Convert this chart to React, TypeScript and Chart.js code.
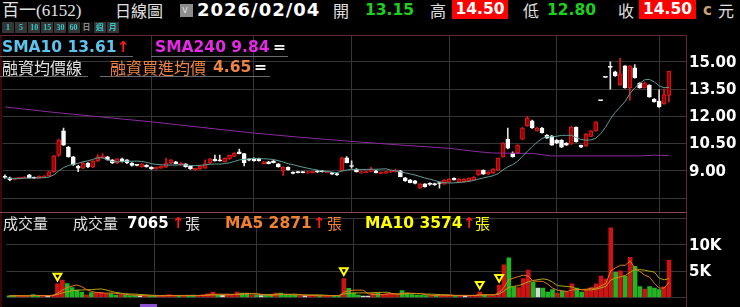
import React, { useEffect, useRef } from 'react';
import { Chart, registerables } from 'chart.js';
Chart.register(...registerables);

// ---- data ----
const opens = [8.70,8.62,8.52,8.58,8.60,8.78,8.64,8.60,8.66,8.72,8.95,9.85,11.20,10.30,9.77,9.26,9.15,9.43,9.21,9.54,9.72,9.77,9.60,9.43,9.66,9.60,9.43,9.30,9.22,9.32,9.20,9.10,9.15,9.20,9.43,9.50,9.32,9.38,9.26,9.05,9.10,9.15,9.43,9.65,9.60,9.50,9.65,9.80,10.04,9.95,9.65,9.70,9.68,9.40,9.50,9.55,9.38,9.00,9.20,8.93,8.95,8.94,8.88,8.90,9.00,9.00,8.90,8.90,8.85,9.00,9.72,9.28,9.10,8.88,8.90,8.97,9.00,8.85,8.87,8.92,8.95,9.00,8.62,8.50,8.45,8.05,8.28,8.30,8.30,8.30,8.27,8.38,8.60,8.38,8.40,8.45,8.50,8.77,9.04,8.82,8.88,9.04,9.77,10.75,9.98,9.98,10.75,11.47,11.75,11.20,11.36,10.97,10.92,10.70,10.70,10.53,10.47,11.41,10.40,10.37,10.90,11.20,12.87,14.15,14.75,14.45,13.74,14.78,13.57,14.67,13.84,13.57,13.73,12.95,12.85,12.68,13.15];
const highs = [8.78,8.65,8.60,8.62,8.68,8.80,8.66,8.72,8.74,8.96,9.85,10.75,11.36,10.35,9.80,9.30,9.45,9.46,9.56,9.90,9.95,9.80,9.62,9.68,9.70,9.62,9.45,9.32,9.40,9.34,9.22,9.22,9.28,9.70,9.62,9.52,9.45,9.40,9.28,9.15,9.28,9.60,9.68,9.87,9.87,9.72,9.87,10.00,10.20,9.97,9.68,9.72,9.70,9.52,9.52,9.57,9.40,9.22,9.22,8.95,8.97,8.96,8.97,8.99,9.02,9.02,8.98,8.92,8.87,9.75,9.78,9.55,9.12,9.00,8.98,9.20,9.02,8.94,8.98,9.02,9.10,9.02,8.64,8.52,8.47,8.30,8.30,8.35,8.32,8.35,8.51,8.57,8.62,8.57,8.57,8.62,8.68,9.06,9.06,8.95,9.12,9.72,10.55,11.36,10.05,10.45,11.40,12.00,11.80,11.40,11.40,11.00,10.95,10.72,10.72,10.56,11.45,11.43,10.42,11.05,11.22,11.72,12.87,14.15,15.00,14.50,15.20,14.80,14.80,14.85,13.86,13.90,13.75,12.98,13.46,13.50,14.50];
const lows = [8.58,8.45,8.50,8.55,8.58,8.60,8.58,8.58,8.64,8.70,8.92,9.80,10.40,9.75,9.30,8.95,9.12,9.18,9.18,9.50,9.70,9.58,9.40,9.40,9.48,9.40,9.26,9.27,9.20,9.20,9.08,9.08,9.13,9.18,9.40,9.38,9.30,9.20,9.08,9.02,9.08,9.13,9.40,9.53,9.53,9.48,9.63,9.78,9.93,9.27,9.55,9.53,9.53,9.38,9.38,9.43,9.20,8.75,9.03,8.83,8.88,8.88,8.86,8.88,8.91,8.93,8.88,8.80,8.75,8.98,9.43,9.15,8.93,8.86,8.88,8.95,8.88,8.83,8.85,8.90,8.93,8.66,8.42,8.33,8.28,8.03,8.10,8.20,8.20,8.05,8.25,8.36,8.48,8.36,8.38,8.43,8.48,8.75,8.80,8.80,8.86,9.02,9.75,10.20,9.75,9.95,10.72,11.45,11.33,11.18,11.08,10.78,10.40,10.50,10.28,10.40,10.45,10.58,10.28,10.35,10.88,11.18,12.87,14.15,13.50,14.20,13.70,13.55,12.90,14.10,13.55,13.55,13.05,12.78,12.50,12.66,12.80];
const closes = [8.64,8.50,8.58,8.60,8.66,8.62,8.60,8.70,8.70,8.94,9.83,10.70,10.42,9.77,9.32,9.15,9.43,9.21,9.54,9.77,9.82,9.60,9.43,9.66,9.50,9.43,9.30,9.30,9.38,9.22,9.10,9.20,9.26,9.43,9.60,9.40,9.43,9.22,9.10,9.13,9.26,9.38,9.66,9.55,9.55,9.70,9.85,9.98,9.95,9.43,9.58,9.55,9.55,9.50,9.40,9.45,9.22,9.20,9.05,8.85,8.90,8.90,8.95,8.97,8.93,8.95,8.96,8.82,8.77,9.72,9.45,9.24,8.95,8.95,8.95,9.10,8.90,8.92,8.96,9.00,9.02,8.68,8.44,8.35,8.30,8.28,8.12,8.25,8.22,8.30,8.49,8.55,8.50,8.55,8.55,8.60,8.66,9.04,8.82,8.93,9.10,9.70,10.53,10.25,9.77,10.42,11.36,11.90,11.36,11.36,11.10,10.80,10.42,10.53,10.30,10.42,11.41,10.60,10.30,11.03,11.20,11.70,12.87,14.15,14.70,14.23,14.34,13.57,14.78,14.12,13.57,13.84,13.07,12.80,12.52,13.20,14.50];
const volumes = [300,350,350,300,300,570,300,400,250,450,2580,3330,2640,1890,1430,1030,520,920,920,980,750,750,460,570,400,350,350,250,350,300,350,300,350,570,400,350,300,400,450,350,500,700,1030,500,400,450,600,1030,860,860,460,400,350,400,350,860,860,570,460,460,350,300,350,400,350,300,350,400,350,3610,1720,860,460,290,290,860,860,460,750,750,570,1320,860,570,460,400,350,300,350,300,450,500,350,400,350,400,450,1030,460,340,340,2350,6200,7510,2010,1890,3610,5220,2920,1780,1780,1030,1490,860,1200,1030,2580,1780,1030,1490,1890,2580,4070,3500,13250,4760,5050,4070,7630,5910,2060,1610,2060,1780,1490,2010,7065];
const sma240Idx = [0,10,20,30,40,51,60,71,80,91,97,100,108,112,130,133,136];
const sma240Val = [12.52,12.22,11.96,11.70,11.40,11.08,10.86,10.62,10.44,10.24,10.05,9.98,9.96,9.82,9.82,9.86,9.84];
const monthStartIdx = [30, 51, 71, 91, 113, 134];
const priceTicks = [7.5, 9, 10.5, 12, 13.5, 15];
const volTicks = [0, 5000, 10000, 15000];
const signalDays = [10, 69, 97, 101];
const buttonLabels = ['1', '5', '10', '15', '30', '60', '日', '週', '月'];

const X_MIN = -0.5;
const X_MAX = 139.5;
const GRID = '#363636';
const RED_FILL = '#9c0000';
const RED_EDGE = '#e41a1a';

const idxs = closes.map((_, i) => i);
const sma = (arr: number[], n: number) =>
  arr.map((_, i) => {
    const s = arr.slice(Math.max(0, i - n + 1), i + 1);
    return s.reduce((a, b) => a + b, 0) / s.length;
  });
const sma10 = sma(closes, 10);
const volMa5 = sma(volumes, 5);
const volMa10 = sma(volumes, 10);

const candleUp = (i: number) => closes[i] > opens[i];
const volColor = (i: number) => {
  const prev = i === 0 ? opens[0] : closes[i - 1];
  if (closes[i] > prev) return '#cc1414';
  if (closes[i] < prev) return '#22b422';
  return '#d8d8d8';
};

const noPad = (s: any) => {
  s.paddingTop = 0;
  s.paddingBottom = 0;
  s.paddingLeft = 0;
  s.paddingRight = 0;
};

const xScale = () => ({
  type: 'linear',
  min: X_MIN,
  max: X_MAX,
  offset: false,
  ticks: { display: false },
  grid: { color: GRID, drawTicks: false, offset: false },
  border: { display: false },
  afterBuildTicks: (s: any) => {
    s.ticks = monthStartIdx.map((v) => ({ value: v }));
  },
  afterFit: (s: any) => {
    s.height = 0;
    noPad(s);
  },
});

function PriceChart() {
  const ref = useRef<HTMLCanvasElement>(null);
  useEffect(() => {
    const chart = new Chart(ref.current!, {
      type: 'bar',
      data: {
        datasets: [
          {
            type: 'line',
            data: idxs.map((i) => ({ x: i, y: sma10[i] })),
            borderColor: '#5f9e98',
            borderWidth: 1,
            pointRadius: 0,
            order: 0,
          } as any,
          {
            type: 'line',
            data: sma240Idx.map((x, k) => ({ x, y: sma240Val[k] })),
            borderColor: '#8a2a9c',
            borderWidth: 1,
            pointRadius: 0,
            order: 1,
          } as any,
          {
            type: 'bar',
            data: idxs.map((i) => ({ x: i, y: [opens[i], closes[i]] })),
            backgroundColor: (c: any) => (candleUp(c.dataIndex) ? RED_FILL : '#ffffff'),
            borderColor: (c: any) => (candleUp(c.dataIndex) ? RED_EDGE : '#ffffff'),
            borderWidth: 1,
            borderSkipped: false,
            barThickness: 4,
            minBarLength: 1,
            grouped: false,
            order: 2,
          } as any,
          {
            type: 'bar',
            data: idxs.map((i) => ({ x: i, y: [lows[i], highs[i]] })),
            backgroundColor: (c: any) => (candleUp(c.dataIndex) ? RED_EDGE : '#e0e0e0'),
            barThickness: 1,
            grouped: false,
            order: 3,
          } as any,
        ],
      },
      options: {
        animation: false,
        responsive: false,
        events: [],
        layout: { padding: { left: 2.5, right: 0, top: 2, bottom: 2 } },
        plugins: { legend: { display: false }, tooltip: { enabled: false } },
        scales: {
          x: xScale(),
          y: {
            position: 'right',
            min: 6.73,
            max: 16.43,
            afterBuildTicks: (s: any) => {
              s.ticks = priceTicks.map((v) => ({ value: v }));
            },
            afterFit: (s: any) => {
              s.width = 54;
              noPad(s);
            },
            ticks: {
              color: '#ffffff',
              padding: 3,
              labelOffset: 1,
              font: { family: 'DejaVu Sans', weight: 'bold', size: 15 },
              callback: (v: any) => (v < 8 ? '' : Number(v).toFixed(2)),
            },
            grid: { color: GRID, drawTicks: false },
            border: { display: false },
          },
        },
      } as any,
    });
    return () => chart.destroy();
  }, []);
  return (
    <canvas
      ref={ref}
      width={740}
      height={180}
      style={{ position: 'absolute', left: 0, top: 34, width: 740, height: 180 }}
    />
  );
}

function VolumeChart() {
  const ref = useRef<HTMLCanvasElement>(null);
  useEffect(() => {
    const chart = new Chart(ref.current!, {
      type: 'bar',
      data: {
        datasets: [
          {
            type: 'line',
            data: signalDays.map((i) => ({ x: i, y: volumes[i] + 1500 })),
            showLine: false,
            pointStyle: 'triangle',
            pointRotation: 180,
            pointRadius: 4.5,
            pointBorderWidth: 2,
            pointBorderColor: '#ffff00',
            pointBackgroundColor: '#000000',
            order: 0,
          } as any,
          {
            type: 'line',
            data: idxs.map((i) => ({ x: i, y: volMa5[i] })),
            borderColor: '#e07a22',
            borderWidth: 1,
            pointRadius: 0,
            order: 1,
          } as any,
          {
            type: 'line',
            data: idxs.map((i) => ({ x: i, y: volMa10[i] })),
            borderColor: '#b4a414',
            borderWidth: 1,
            pointRadius: 0,
            order: 1,
          } as any,
          {
            type: 'bar',
            data: idxs.map((i) => ({ x: i, y: volumes[i] })),
            backgroundColor: (c: any) => volColor(c.dataIndex),
            barThickness: 4,
            grouped: false,
            order: 2,
          } as any,
        ],
      },
      options: {
        animation: false,
        responsive: false,
        events: [],
        layout: { padding: { left: 2.5, right: 0, top: 2, bottom: 3 } },
        plugins: { legend: { display: false }, tooltip: { enabled: false } },
        scales: {
          x: xScale(),
          y: {
            position: 'right',
            min: 0,
            max: 15000,
            afterBuildTicks: (s: any) => {
              s.ticks = volTicks.map((v) => ({ value: v }));
            },
            afterFit: (s: any) => {
              s.width = 54;
              noPad(s);
            },
            ticks: {
              color: '#ffffff',
              padding: 3,
              labelOffset: 1,
              font: { family: 'DejaVu Sans', weight: 'bold', size: 15 },
              callback: (v: any) => (v === 5000 || v === 10000 ? v / 1000 + 'K' : ''),
            },
            grid: { color: GRID, drawTicks: false },
            border: { display: false },
          },
        },
      } as any,
    });
    return () => chart.destroy();
  }, []);
  return (
    <canvas
      ref={ref}
      width={740}
      height={92}
      style={{ position: 'absolute', left: 0, top: 212, width: 740, height: 92 }}
    />
  );
}

const CJK = '"Noto Sans CJK TC", sans-serif';
const SERIF_CJK = '"Liberation Serif", "Noto Sans CJK TC", serif';
const NUM = '"DejaVu Sans", sans-serif';

function T(props: {
  x: number; y: number; h: number; size: number; color: string;
  bold?: boolean; family?: string; children: any; ls?: number; bg?: string; w?: number; center?: boolean;
}) {
  return (
    <div
      style={{
        position: 'absolute',
        left: props.x,
        top: props.y,
        height: props.h,
        lineHeight: props.h + 'px',
        fontSize: props.size,
        color: props.color,
        fontWeight: props.bold ? 'bold' : 'normal',
        fontFamily: props.family || CJK,
        letterSpacing: props.ls || 0,
        background: props.bg,
        width: props.w,
        textAlign: props.center ? 'center' : 'left',
        whiteSpace: 'nowrap',
      }}
    >
      {props.children}
    </div>
  );
}

function Line(p: { x: number; y: number; w: number; h: number; c: string }) {
  return <div style={{ position: 'absolute', left: p.x, top: p.y, width: p.w, height: p.h, background: p.c }} />;
}

export default function App() {
  return (
    <div
      style={{
        position: 'fixed', left: 0, top: 0, width: 740, height: 307,
        background: '#000', overflow: 'hidden',
      }}
    >
      <PriceChart />
      <VolumeChart />

      {/* panel borders */}
      <Line x={0} y={35} w={687} h={1} c="#6a2434" />
      <Line x={686} y={35} w={1} h={272} c="#6a2434" />
      <Line x={0} y={36} w={2} h={271} c="#3a0808" />
      <Line x={0} y={212} w={686} h={1} c="#8a4656" />
      <Line x={140} y={304} w={17} h={3} c="#8a50d0" />

      {/* header */}
      <T x={2} y={1} h={19} size={17} color="#e0e0e0" family={SERIF_CJK}>百一(6152)</T>
      <T x={115} y={1} h={19} size={16} color="#e0e0e0">日線圖</T>
      <div style={{ position: 'absolute', left: 180, top: 4, width: 13, height: 13, background: '#8c8c8c' }}>
        <T x={2} y={0} h={12} size={10} color="#dcdcdc" family={NUM}>v</T>
      </div>
      <T x={197} y={0} h={20} size={18} color="#ffffff" bold family={NUM} ls={1}>2026/02/04</T>
      <T x={333} y={1} h={19} size={16} color="#e0e0e0">開</T>
      <T x={365} y={0} h={20} size={15.5} color="#1ed01e" bold family={NUM}>13.15</T>
      <T x={430} y={1} h={19} size={16} color="#e0e0e0">高</T>
      <T x={452} y={0} h={19} w={56} size={15.5} color="#ffffff" bold family={NUM} bg="#ff0000" center>14.50</T>
      <T x={523} y={1} h={19} size={16} color="#e0e0e0">低</T>
      <T x={547} y={0} h={20} size={15.5} color="#1ed01e" bold family={NUM}>12.80</T>
      <T x={618} y={1} h={19} size={16} color="#e0e0e0">收</T>
      <T x={639} y={0} h={19} w={57} size={15.5} color="#ffffff" bold family={NUM} bg="#ff0000" center>14.50</T>
      <T x={703} y={0} h={20} size={15} color="#c8a070" bold family={NUM}>c</T>
      <T x={718} y={1} h={19} size={16} color="#e0e0e0">元</T>

      {/* period buttons */}
      {buttonLabels.map((b, k) => (
        <T
          key={b}
          x={2 + k * 13.1}
          y={22}
          h={11}
          w={12}
          size={8}
          color={b === '日' ? '#8a8a8a' : '#36c8c8'}
          bg={b === '日' ? '#111111' : '#353535'}
          bold
          family={SERIF_CJK}
          center
        >
          {b}
        </T>
      ))}

      {/* legend row 1 */}
      <T x={2} y={38} h={18} size={15.5} color="#5ec4ee" bold family={NUM}>SMA10 13.61</T>
      <T x={117} y={38} h={18} size={15} color="#ff1a1a" bold family={NUM}>↑</T>
      <Line x={0} y={56} w={133} h={1} c="#6a6a6a" />
      <T x={155} y={38} h={18} size={15.5} color="#e42ae4" bold family={NUM}>SMA240 9.84</T>
      <T x={273} y={38} h={18} size={15.5} color="#ffffff" bold family={NUM}>=</T>
      <Line x={151} y={56} w={137} h={1} c="#6a6a6a" />

      {/* legend row 2 */}
      <T x={2} y={58} h={18} size={16} color="#e0e0e0">融資均價線</T>
      <Line x={0} y={76} w={88} h={1} c="#6a6a6a" />
      <T x={110} y={58} h={18} size={16} color="#ec8444">融資買進均價</T>
      <T x={213} y={58} h={18} size={15.5} color="#ec8444" bold family={NUM}>4.65</T>
      <T x={254} y={58} h={18} size={15.5} color="#ffffff" bold family={NUM}>=</T>
      <Line x={100} y={76} w={170} h={1} c="#6a6a6a" />

      {/* volume legend */}
      <T x={3} y={214} h={18} size={15} color="#e0e0e0">成交量</T>
      <T x={73} y={214} h={18} size={15} color="#e0e0e0">成交量</T>
      <T x={127} y={214} h={18} size={15} color="#ffffff" bold family={NUM}>7065</T>
      <T x={172} y={214} h={18} size={15} color="#ff1a1a" bold family={NUM}>↑</T>
      <T x={185} y={214} h={18} size={15} color="#e0e0e0">張</T>
      <T x={225} y={214} h={18} size={15.5} color="#f08232" bold family={NUM}>MA5 2871</T>
      <T x={313} y={214} h={18} size={15} color="#ff1a1a" bold family={NUM}>↑</T>
      <T x={327} y={214} h={18} size={15} color="#f08232">張</T>
      <T x={365} y={214} h={18} size={15.5} color="#ffff00" bold family={NUM}>MA10 3574</T>
      <T x={463} y={214} h={18} size={15} color="#ff1a1a" bold family={NUM}>↑</T>
      <T x={475} y={214} h={18} size={15} color="#ffff00">張</T>
    </div>
  );
}
